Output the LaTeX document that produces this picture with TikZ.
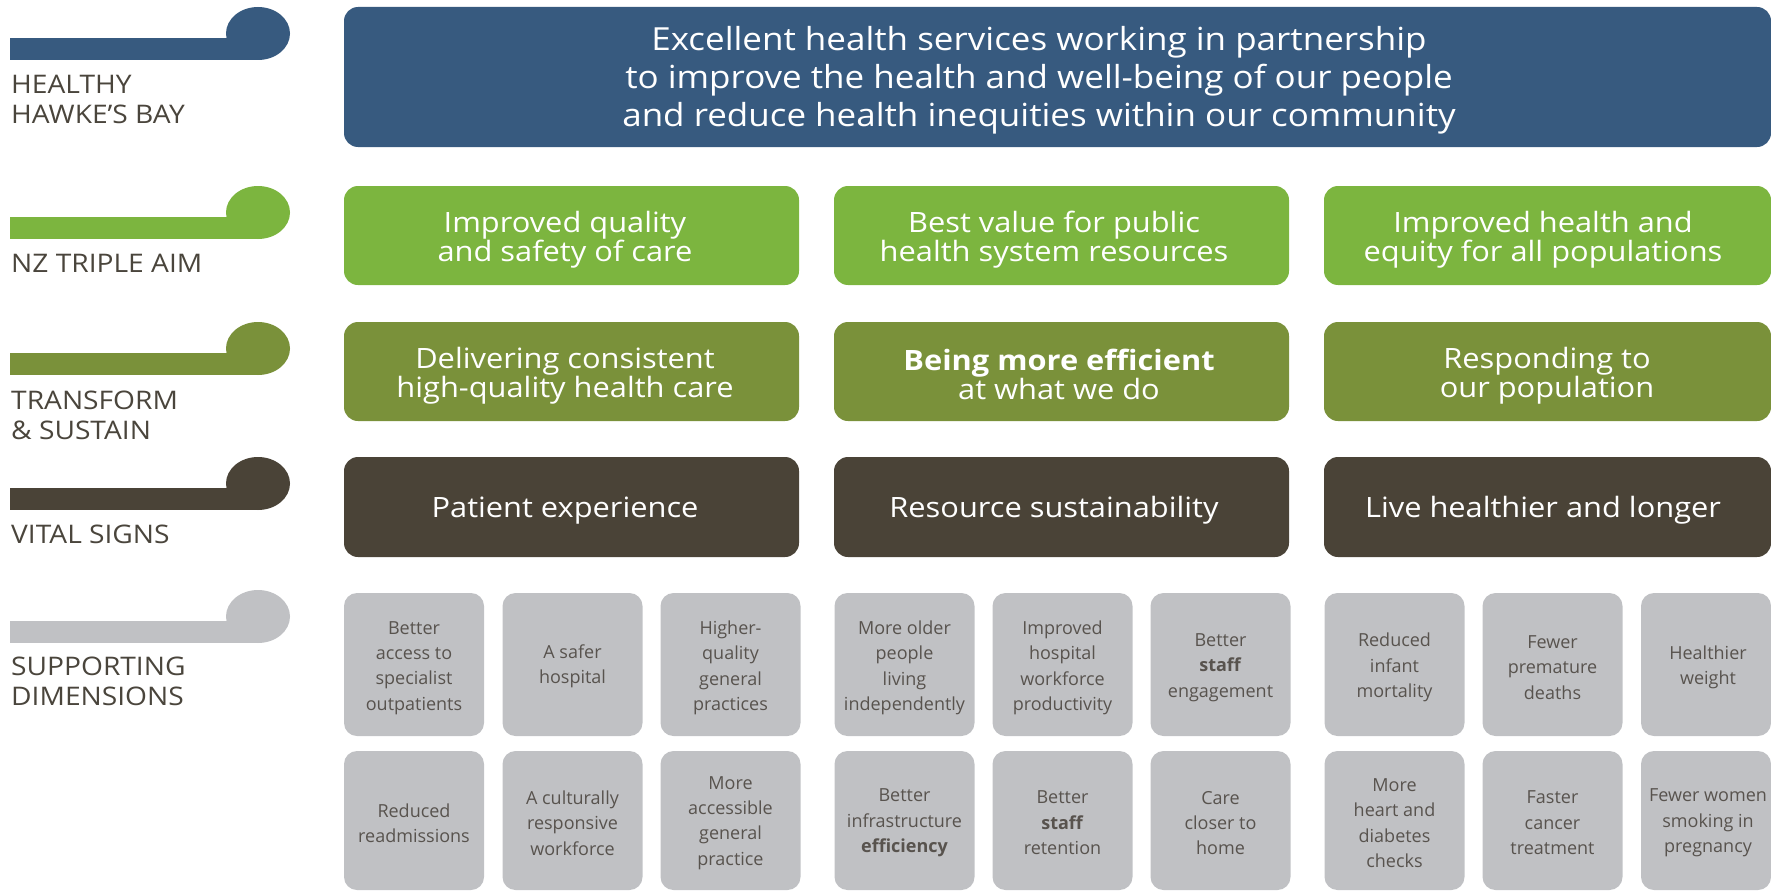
\documentclass[tikz,border=0pt]{standalone}
\usepackage{fontspec}
\setmainfont{Open Sans}
\newfontfamily\widefont{Open Sans}[FakeStretch=1.1]
\definecolor{hbblue}{RGB}{55,90,127}
\definecolor{tagreen}{RGB}{124,181,63}
\definecolor{tsolive}{RGB}{122,145,58}
\definecolor{vsdark}{RGB}{74,67,55}
\definecolor{sdgrey}{RGB}{192,193,196}
\definecolor{labeltext}{RGB}{74,69,60}
\definecolor{greytext}{RGB}{88,83,78}
\tikzset{
  bigbox/.style={rectangle, rounded corners=14pt, inner sep=0pt, outer sep=0pt, minimum height=99pt, minimum width=455pt},
  bigtxt/.style={text=white, align=center, inner sep=0pt, font=\widefont\fontsize{28}{29.5}\selectfont},
  gbox/.style={rectangle, rounded corners=13pt, fill=sdgrey, inner sep=0pt, outer sep=0pt, minimum width=140pt},
  gtxt/.style={text=greytext, align=center, inner sep=0pt, font=\fontsize{18}{25.4}\selectfont},
  lbl/.style={text=labeltext, align=left, inner sep=0pt, anchor=base west, font=\widefont\fontsize{25.6}{30}\selectfont},
}
\begin{document}
\begin{tikzpicture}[x=1pt,y=-1pt]
\useasboundingbox (0,0) rectangle (1771,891);
% hooks
\foreach \t/\c in {7/hbblue,186/tagreen,322/tsolive,457/vsdark,590/sdgrey}{
  \fill[\c] (10,\t+31) rectangle (258,\t+53);
  \fill[\c] (258,\t+26.5) ellipse [x radius=32, y radius=26.5];
}
% labels (anchored at the baseline of the last line)
\node[lbl] (l1) at (11,123) {HEALTHY\\HAWKE’S BAY};
\node[lbl] (l2) at (11,272) {NZ TRIPLE AIM};
\node[lbl] (l3) at (11,439) {TRANSFORM\\\& SUSTAIN};
\node[lbl] (l4) at (11,543) {VITAL SIGNS};
\node[lbl] (l5) at (11,705) {SUPPORTING\\DIMENSIONS};
% top box
\node[bigbox, fill=hbblue, minimum width=1427pt, minimum height=140pt] (hb) at (1057.5,77) {};
\node[bigtxt, font=\widefont\fontsize{31.8}{37.8}\selectfont] (hbt) at (1039,80.5) {Excellent health services working in partnership\\to improve the health and well-being of our people\\and reduce health inequities within our community};
% triple aim
\node[bigbox, fill=tagreen] (ta1) at (571.5,235.5) {};
\node[bigbox, fill=tagreen] (ta2) at (1061.5,235.5) {};
\node[bigbox, fill=tagreen, minimum width=447pt] (ta3) at (1547.5,235.5) {};
\node[bigtxt] (tat1) at (565,239.5) {Improved quality\\and safety of care};
\node[bigtxt] (tat2) at (1054,239.5) {Best value for public\\health system resources};
\node[bigtxt] (tat3) at (1543,239.5) {Improved health and\\equity for all populations};
% transform
\node[bigbox, fill=tsolive] (ts1) at (571.5,371.5) {};
\node[bigbox, fill=tsolive] (ts2) at (1061.5,371.5) {};
\node[bigbox, fill=tsolive, minimum width=447pt] (ts3) at (1547.5,371.5) {};
\node[bigtxt] (tst1) at (565,375.5) {Delivering consistent\\high-quality health care};
\node[bigtxt] (tst2) at (1059,374.5) {\textbf{Being more efficient}\\at what we do};
\node[bigtxt] (tst3) at (1547,375.5) {Responding to\\our population};
% vital signs
\node[bigbox, fill=vsdark, minimum height=100pt] (vs1) at (571.5,507) {};
\node[bigbox, fill=vsdark, minimum height=100pt] (vs2) at (1061.5,507) {};
\node[bigbox, fill=vsdark, minimum height=100pt, minimum width=447pt] (vs3) at (1547.5,507) {};
\node[bigtxt] (vst1) at (565,510.5) {Patient experience};
\node[bigtxt] (vst2) at (1054,510.5) {Resource sustainability};
\node[bigtxt] (vst3) at (1543,510.5) {Live healthier and longer};
% supporting dimensions row 1
\node[gbox, minimum height=143pt] (g11) at (414,664.5) {};
\node[gbox, minimum height=143pt] (g12) at (572.5,664.5) {};
\node[gbox, minimum height=143pt] (g13) at (730.5,664.5) {};
\node[gbox, minimum height=143pt] (g14) at (904.5,664.5) {};
\node[gbox, minimum height=143pt] (g15) at (1062.5,664.5) {};
\node[gbox, minimum height=143pt] (g16) at (1220.5,664.5) {};
\node[gbox, minimum height=143pt] (g17) at (1394.5,664.5) {};
\node[gbox, minimum height=143pt] (g18) at (1552.5,664.5) {};
\node[gbox, minimum height=143pt, minimum width=130pt] (g19) at (1706,664.5) {};
\node[gtxt] (t11) at (414,668) {Better\\access to\\specialist\\outpatients};
\node[gtxt] (t12) at (572.5,666.5) {A safer\\hospital};
\node[gtxt] (t13) at (730.5,668) {Higher-\\quality\\general\\practices};
\node[gtxt] (t14) at (904.5,668) {More older\\people\\living\\independently};
\node[gtxt] (t15) at (1062.5,668) {Improved\\hospital\\workforce\\productivity};
\node[gtxt] (t16) at (1220.5,667.5) {Better\\\textbf{staff}\\engagement};
\node[gtxt] (t17) at (1394.5,667.5) {Reduced\\infant\\mortality};
\node[gtxt] (t18) at (1552.5,667.5) {Fewer\\premature\\deaths};
\node[gtxt] (t19) at (1708,667.5) {Healthier\\weight};
% row 2
\node[gbox, minimum height=139pt] (g21) at (414,820.5) {};
\node[gbox, minimum height=139pt] (g22) at (572.5,820.5) {};
\node[gbox, minimum height=139pt] (g23) at (730.5,820.5) {};
\node[gbox, minimum height=139pt] (g24) at (904.5,820.5) {};
\node[gbox, minimum height=139pt] (g25) at (1062.5,820.5) {};
\node[gbox, minimum height=139pt] (g26) at (1220.5,820.5) {};
\node[gbox, minimum height=139pt] (g27) at (1394.5,820.5) {};
\node[gbox, minimum height=139pt] (g28) at (1552.5,820.5) {};
\node[gbox, minimum height=139pt, minimum width=130pt] (g29) at (1706,820.5) {};
\node[gtxt] (t21) at (414,823) {Reduced\\readmissions};
\node[gtxt] (t22) at (572.5,823) {A culturally\\responsive\\workforce};
\node[gtxt] (t23) at (730.5,823) {More\\accessible\\general\\practice};
\node[gtxt] (t24) at (904.5,823) {Better\\infrastructure\\\textbf{efficiency}};
\node[gtxt] (t25) at (1062.5,823) {Better\\\textbf{staff}\\retention};
\node[gtxt] (t26) at (1220.5,823) {Care\\closer to\\home};
\node[gtxt] (t27) at (1394.5,823) {More\\heart and\\diabetes\\checks};
\node[gtxt] (t28) at (1552.5,823) {Faster\\cancer\\treatment};
\node[gtxt] (t29) at (1708,823) {Fewer women\\smoking in\\pregnancy};
\end{tikzpicture}
\end{document}
